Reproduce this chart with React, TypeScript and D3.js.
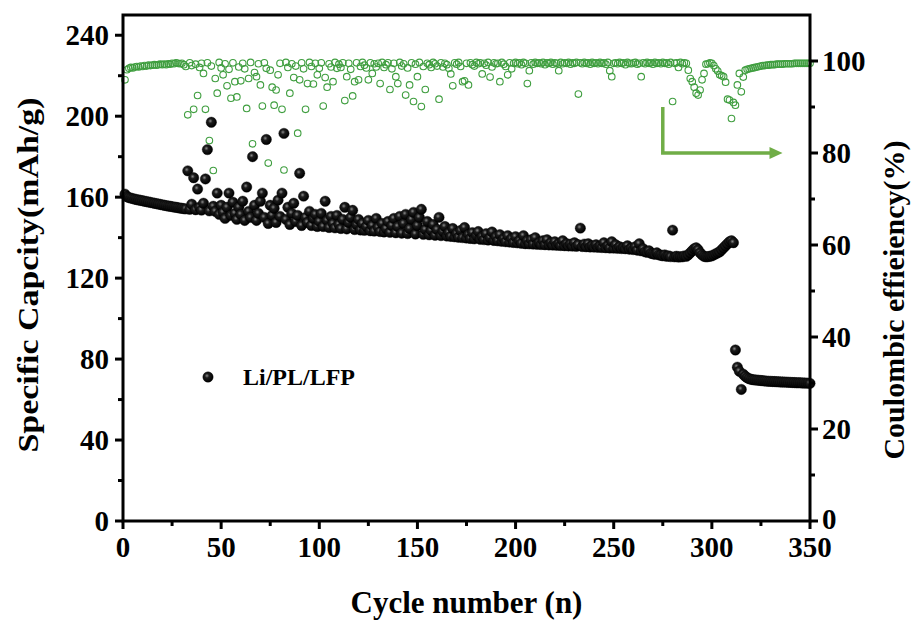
import React from 'react';
import * as d3 from 'd3';

// Specific capacity (mAh/g), cycles 1..350
const capacity: number[] = [
  161.5,160.2,159.8,159.5,159.3,159.0,158.8,158.6,158.4,158.2,
  158.0,157.8,157.6,157.4,157.2,157.0,156.8,156.6,156.4,156.2,
  156.0,155.8,155.6,155.5,155.3,155.1,155.0,154.8,154.6,154.5,
  154.3,154.2,173.0,154.0,156.5,169.6,153.8,164.0,155.0,153.6,
  157.0,169.0,183.5,153.2,197.0,155.5,153.0,162.0,151.5,156.0,
  152.5,149.5,155.0,162.0,151.0,157.5,152.0,149.0,155.0,151.5,
  158.0,148.5,165.0,153.0,150.0,180.0,156.0,148.5,152.0,158.0,
  162.0,150.0,188.5,147.0,156.0,151.0,154.5,147.5,158.5,150.5,
  162.0,191.5,149.0,155.0,146.5,152.0,157.0,148.0,151.0,171.8,
  146.0,160.5,150.0,147.5,153.0,146.0,149.5,151.5,145.5,148.0,
  152.0,145.5,158.0,148.5,145.0,150.5,147.0,144.8,151.0,146.5,
  144.5,149.0,155.0,144.3,147.5,150.0,153.5,144.0,146.5,149.0,
  143.8,147.0,143.6,145.5,148.5,143.4,146.0,143.2,149.5,145.0,
  143.0,147.0,142.8,144.5,148.0,142.6,146.0,149.5,142.4,145.5,
  150.5,142.2,147.0,151.5,142.0,144.5,149.0,152.5,141.8,146.0,
  150.0,154.0,141.6,144.0,148.0,141.4,143.5,146.5,141.2,144.0,
  150.0,141.0,143.0,145.5,140.8,142.5,140.6,144.5,140.4,142.0,
  140.2,143.5,140.0,145.0,139.8,141.5,139.6,142.5,139.4,141.0,
  143.0,139.2,140.5,139.0,142.0,138.8,140.0,142.8,138.6,140.5,
  138.4,141.5,138.2,139.5,138.0,141.0,137.8,139.5,137.6,140.5,
  137.4,138.5,137.2,141.0,137.0,138.5,136.9,139.0,136.8,140.0,
  136.7,137.5,136.6,138.5,136.5,139.0,136.4,137.5,136.3,138.0,
  136.2,137.0,136.1,138.5,136.0,137.0,135.9,136.8,135.8,137.5,
  135.7,136.5,144.7,135.6,136.8,135.5,137.0,135.4,136.0,135.3,
  136.5,135.2,135.8,135.1,137.5,135.0,136.0,134.9,138.0,134.8,
  136.5,134.7,135.5,134.6,135.0,134.5,136.0,134.3,134.8,134.1,
  135.5,133.8,137.0,133.5,134.5,133.0,132.8,133.5,132.3,132.0,
  131.8,132.5,131.5,131.3,131.0,131.5,130.8,131.0,130.6,143.7,
  130.5,130.8,130.4,130.6,130.5,131.0,130.8,131.5,132.5,133.5,
  134.5,135.0,134.0,132.5,131.5,130.8,130.5,130.6,130.8,131.0,
  131.5,132.0,132.5,133.0,134.0,135.0,136.0,137.0,138.0,138.5,
  137.5,84.5,76.0,74.0,65.0,72.5,71.5,70.8,70.3,70.0,
  69.8,69.7,69.6,69.5,69.4,69.3,69.2,69.1,69.0,69.0,
  68.9,68.9,68.8,68.8,68.7,68.7,68.6,68.6,68.5,68.5,
  68.4,68.4,68.3,68.3,68.3,68.2,68.2,68.1,68.1,68.0,
];

// Coulombic efficiency (%), cycles 1..350
const efficiency: number[] = [
  95.9,98.1,98.4,98.6,98.5,98.7,98.8,98.7,98.9,98.8,
  99.0,98.9,99.1,99.0,99.1,99.2,99.1,99.2,99.3,99.2,
  99.3,99.2,99.4,99.3,99.5,99.4,99.6,99.5,99.4,99.5,
  99.2,98.8,88.3,99.6,99.0,89.5,99.3,92.5,98.6,99.5,
  97.3,89.5,99.6,82.7,98.9,76.2,96.2,93.0,99.7,98.5,
  97.0,99.4,94.6,98.2,91.9,99.6,95.5,92.2,98.7,95.7,
  99.5,98.3,89.7,96.2,99.7,82.0,97.5,96.6,99.4,94.8,
  90.2,99.6,98.4,77.8,98.0,94.3,90.4,93.7,97.0,99.5,
  89.5,76.3,99.7,98.6,93.0,99.4,96.4,98.9,84.3,95.9,
  99.6,98.3,89.5,95.1,99.7,98.8,95.0,99.5,97.0,98.4,
  99.6,90.2,96.4,94.3,99.4,98.7,95.5,99.7,98.4,99.3,
  98.6,99.6,91.4,96.6,99.5,98.2,92.4,95.5,99.6,95.9,
  98.8,99.7,99.1,98.5,95.9,99.6,97.3,99.4,98.7,99.5,
  95.1,99.7,98.6,99.2,99.6,93.8,98.3,99.5,96.6,95.1,
  99.7,98.9,99.4,92.6,98.5,94.8,99.6,91.2,99.3,96.6,
  99.7,90.1,98.8,93.8,99.5,99.2,98.6,99.7,99.4,98.9,
  91.7,99.6,98.7,99.5,99.2,98.4,97.2,94.6,99.6,99.3,
  99.7,98.8,95.5,95.7,99.5,94.8,99.6,99.2,98.9,99.7,
  99.4,99.6,97.2,99.5,99.1,99.7,96.5,98.7,99.6,99.4,
  99.5,95.5,99.7,99.3,98.8,97.0,99.6,98.3,99.5,99.7,
  99.4,99.6,99.2,99.7,99.5,95.1,97.9,99.6,99.3,99.7,
  99.5,99.6,99.4,99.7,99.2,99.6,99.5,99.7,99.3,99.6,
  99.5,97.9,99.7,99.4,99.6,99.5,99.7,99.3,99.6,99.5,
  99.7,92.8,99.6,99.4,99.7,99.5,99.6,99.3,99.7,99.5,
  99.6,99.4,99.7,99.5,99.6,99.3,99.7,97.9,96.6,99.5,
  99.6,99.4,99.7,99.5,99.6,99.2,99.7,99.5,99.4,99.6,
  99.7,99.3,99.5,96.6,99.6,99.4,99.7,99.5,99.6,99.3,
  99.7,99.5,99.6,99.4,99.7,99.5,99.6,99.3,99.7,91.2,
  99.5,99.6,98.6,99.7,99.4,99.6,99.5,98.0,96.2,95.5,
  94.3,93.0,92.6,93.7,95.9,97.3,99.3,99.4,99.6,99.5,
  99.0,98.3,97.8,97.0,96.8,96.6,95.4,91.7,91.5,87.5,
  91.0,90.4,94.8,97.3,93.3,96.5,98.0,98.2,98.3,98.4,
  98.5,98.6,98.7,98.8,98.9,99.0,99.0,99.1,99.1,99.2,
  99.2,99.2,99.3,99.3,99.3,99.3,99.4,99.4,99.4,99.4,
  99.4,99.5,99.5,99.5,99.5,99.5,99.5,99.5,99.5,99.5,
];

const firstCycle = 1;
const xTicks = [0, 50, 100, 150, 200, 250, 300, 350];
const xMinorTicks = [25, 75, 125, 175, 225, 275, 325];
const yLeftTicks = [0, 40, 80, 120, 160, 200, 240];
const yLeftMinor = [20, 60, 100, 140, 180, 220];
const yRightTicks = [0, 20, 40, 60, 80, 100];
const yRightMinor = [10, 30, 50, 70, 90];
const legendLabel = 'Li/PL/LFP';
const xTitle = 'Cycle number (n)';
const yLeftTitle = 'Specific Capcity(mAh/g)';
const yRightTitle = 'Coulombic effieiency(%)';
// arrow annotation in data units: vertical at cycle 275 from 90% to 80%, then right to cycle 336
const arrowPts: [number, number][] = [[275, 90], [275, 80], [336, 80]];

const FONT = '"Liberation Serif", "Times New Roman", Times, serif';

export default function App() {
  const W = 922, H = 623;
  const L = 123, R = 810, T = 15, B = 521;
  const x = d3.scaleLinear().domain([0, 350]).range([L, R]);
  const yL = d3.scaleLinear().domain([0, 250]).range([B, T]);
  const yR = d3.scaleLinear().domain([0, 110]).range([B, T]);
  const green = '#3f9e3f';
  const arrowGreen = '#70ad47';
  const axisW = 3;
  const majorLen = 8, minorLen = 5;
  const tickFont = 29;

  const arrowLine = d3.line<[number, number]>()
    .x(d => x(d[0]))
    .y(d => yR(d[1]));
  const tip: [number, number] = [x(arrowPts[2][0]), yR(arrowPts[2][1])];
  const shaftEnd: [number, number] = [x.invert(tip[0] - 12), arrowPts[2][1]];

  return (
    <svg width={W} height={H} style={{ position: 'absolute', left: 0, top: 0, background: '#fff' }}
      fontFamily={FONT}>
      <defs>
        <radialGradient id="ball" cx="40%" cy="38%" r="60%">
          <stop offset="0%" stopColor="#8a8a8a" />
          <stop offset="35%" stopColor="#1c1c1c" />
          <stop offset="100%" stopColor="#000" />
        </radialGradient>
      </defs>
      <rect x={0} y={0} width={W} height={H} fill="#fff" />

      {/* efficiency (green hollow circles) */}
      <g>
        {efficiency.map((v, i) => (
          <circle key={'e' + i} cx={x(firstCycle + i)} cy={yR(v)} r={3.3}
            fill="none" stroke={green} strokeWidth={1.1} />
        ))}
      </g>

      {/* capacity (black balls) */}
      <g>
        {capacity.map((v, i) => (
          <circle key={'c' + i} cx={x(firstCycle + i)} cy={yL(v)} r={5.2}
            fill="url(#ball)" stroke="#000" strokeWidth={0.4} />
        ))}
      </g>

      {/* arrow annotation */}
      <path d={arrowLine([arrowPts[0], arrowPts[1], shaftEnd]) || ''}
        fill="none" stroke={arrowGreen} strokeWidth={3.5} strokeLinejoin="miter" />
      <path d={`M${tip[0]},${tip[1]} L${tip[0] - 13},${tip[1] - 6} L${tip[0] - 13},${tip[1] + 6} Z`}
        fill={arrowGreen} />

      {/* frame */}
      <rect x={L} y={T} width={R - L} height={B - T} fill="none" stroke="#000" strokeWidth={axisW} />

      {/* bottom axis ticks */}
      {xTicks.map(t => (
        <g key={'xt' + t}>
          <line x1={x(t)} x2={x(t)} y1={B} y2={B + majorLen} stroke="#000" strokeWidth={axisW} />
          <text x={x(t)} y={B + 36} textAnchor="middle" fontSize={tickFont} fontWeight="bold">{t}</text>
        </g>
      ))}
      {xMinorTicks.map(t => (
        <line key={'xm' + t} x1={x(t)} x2={x(t)} y1={B} y2={B + minorLen} stroke="#000" strokeWidth={axisW} />
      ))}

      {/* left axis ticks */}
      {yLeftTicks.map(t => (
        <g key={'yl' + t}>
          <line x1={L - majorLen} x2={L} y1={yL(t)} y2={yL(t)} stroke="#000" strokeWidth={axisW} />
          <text x={L - 14} y={yL(t) + 10} textAnchor="end" fontSize={tickFont} fontWeight="bold">{t}</text>
        </g>
      ))}
      {yLeftMinor.map(t => (
        <line key={'ylm' + t} x1={L - minorLen} x2={L} y1={yL(t)} y2={yL(t)} stroke="#000" strokeWidth={axisW} />
      ))}

      {/* right axis ticks */}
      {yRightTicks.map(t => (
        <g key={'yr' + t}>
          <line x1={R} x2={R + majorLen} y1={yR(t)} y2={yR(t)} stroke="#000" strokeWidth={axisW} />
          <text x={R + 12} y={yR(t) + (t === 0 ? 8 : 10)} textAnchor="start" fontSize={tickFont} fontWeight="bold">{t}</text>
        </g>
      ))}
      {yRightMinor.map(t => (
        <line key={'yrm' + t} x1={R} x2={R + minorLen} y1={yR(t)} y2={yR(t)} stroke="#000" strokeWidth={axisW} />
      ))}

      {/* titles */}
      <text x={(L + R) / 2} y={613} textAnchor="middle" fontSize={31} fontWeight="bold">{xTitle}</text>
      <text transform={`translate(38,275) rotate(-90)`} textAnchor="middle" fontSize={30} fontWeight="bold"
        textLength={355} lengthAdjust="spacingAndGlyphs">{yLeftTitle}</text>
      <text transform={`translate(904,300) rotate(-90)`} textAnchor="middle" fontSize={30} fontWeight="bold">{yRightTitle}</text>

      {/* legend */}
      <circle cx={208} cy={377} r={5.2} fill="url(#ball)" stroke="#000" strokeWidth={0.4} />
      <text x={243} y={385} fontSize={24} fontWeight="bold">{legendLabel}</text>
    </svg>
  );
}
